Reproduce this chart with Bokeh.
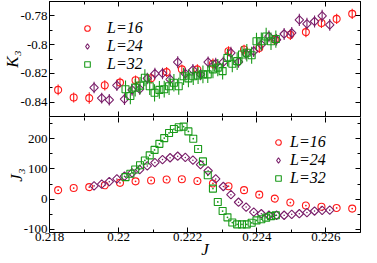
import math
from bokeh.plotting import figure
from bokeh.layouts import column
from bokeh.models import (Range1d, LinearAxis, FixedTicker, CustomJSTickFormatter,
                          Legend, LegendItem, ColumnDataSource)
from bokeh.embed import file_html
from bokeh.resources import INLINE

# ---------------- data ----------------
J16 = [0.21825, 0.21870, 0.21915, 0.21960, 0.22004, 0.22049, 0.22094, 0.22139, 0.22183, 0.22228,
       0.22273, 0.22318, 0.22363, 0.22407, 0.22452, 0.22497, 0.22542, 0.22587, 0.22631, 0.22676]
K16 = [-0.8315, -0.8368, -0.8372, -0.8283, -0.8264, -0.8248, -0.8234, -0.8191, -0.8172, -0.8172,
       -0.8133, -0.8046, -0.8034, -0.8023, -0.7966, -0.7931, -0.7913, -0.7850, -0.7821, -0.7786]
dK16 = [0.0038, 0.0035, 0.0040, 0.0036, 0.0035, 0.0034, 0.0036, 0.0035, 0.0034, 0.0035,
        0.0036, 0.0035, 0.0034, 0.0036, 0.0035, 0.0036, 0.0035, 0.0034, 0.0035, 0.0036]
J3_16 = [30, 37, 40, 46, 54, 59, 62, 65, 66, 60, 52, 43, 30, 15, 2, -11, -21, -25, -29, -31]

J24 = [0.21929, 0.21951, 0.21973, 0.21995, 0.22017, 0.22039, 0.22061, 0.22083, 0.22105, 0.22127,
       0.22149, 0.22171, 0.22193, 0.22215, 0.22237, 0.22259, 0.22281, 0.22303, 0.22325, 0.22347,
       0.22369, 0.22391, 0.22413, 0.22435, 0.22457, 0.22479, 0.22501, 0.22523, 0.22545, 0.22567,
       0.22589, 0.22611]
K24 = [-0.8299, -0.8372, -0.8384, -0.8283, -0.8379, -0.8315, -0.8310, -0.8235, -0.8202, -0.8200,
       -0.8241, -0.8122, -0.8202, -0.8175, -0.8207, -0.8122, -0.8133, -0.8122, -0.8057, -0.8120,
       -0.8064, -0.8046, -0.8000, -0.7943, -0.7966, -0.7926, -0.7919, -0.7828, -0.7855, -0.7839,
       -0.7800, -0.7862]
dK24 = [0.0040, 0.0038, 0.0040, 0.0039, 0.0041, 0.0040, 0.0039, 0.0040, 0.0041, 0.0040,
        0.0039, 0.0042, 0.0040, 0.0041, 0.0040, 0.0039, 0.0041, 0.0040, 0.0042, 0.0040,
        0.0041, 0.0040, 0.0042, 0.0041, 0.0040, 0.0042, 0.0041, 0.0043, 0.0042, 0.0041,
        0.0042, 0.0041]
J3_24 = [44, 50, 58, 67, 76, 87, 98, 110, 121, 131, 137, 142, 138, 129, 114, 94, 67, 42, 15, -10,
         -26, -43, -48, -53, -53, -53, -50, -48, -44, -39, -37, -36]

J32 = [0.22020, 0.22034, 0.22048, 0.22062, 0.22076, 0.22090, 0.22104, 0.22118, 0.22132, 0.22146,
       0.22160, 0.22174, 0.22188, 0.22202, 0.22216, 0.22230, 0.22244, 0.22258, 0.22273, 0.22287,
       0.22301, 0.22315, 0.22329, 0.22343, 0.22357, 0.22371, 0.22385, 0.22399, 0.22413, 0.22427,
       0.22441, 0.22455]
K32 = [-0.8310, -0.8357, -0.8299, -0.8285, -0.8230, -0.8290, -0.8335, -0.8315, -0.8310, -0.8290,
       -0.8265, -0.8290, -0.8220, -0.8235, -0.8220, -0.8215, -0.8207, -0.8207, -0.8172, -0.8160,
       -0.8184, -0.8092, -0.8133, -0.8115, -0.8069, -0.8057, -0.8074, -0.7977, -0.7977, -0.7943,
       -0.7977, -0.7961]
dK32 = [0.0060, 0.0058, 0.0062, 0.0060, 0.0059, 0.0061, 0.0060, 0.0062, 0.0058, 0.0060,
        0.0061, 0.0059, 0.0060, 0.0062, 0.0060, 0.0059, 0.0061, 0.0060, 0.0062, 0.0060,
        0.0059, 0.0061, 0.0060, 0.0062, 0.0060, 0.0061, 0.0059, 0.0060, 0.0062, 0.0060,
        0.0061, 0.0060]
J3_32 = [73, 84, 98, 112, 128, 145, 163, 183, 202, 219, 232, 238, 240, 224, 200, 166, 125, 79, 35, -9,
         -39, -60, -77, -83, -83, -83, -78, -70, -66, -61, -56, -53]

labels = ["L=16", "L=24", "L=32"]
x_ticks = [0.218, 0.22, 0.222, 0.224, 0.226]
x_minor = [0.219, 0.221, 0.223, 0.225, 0.227]
k_ticks = [-0.84, -0.82, -0.8, -0.78]
k_minor = [-0.85, -0.83, -0.81, -0.79, -0.77]
j3_ticks = [-100, 0, 100, 200]
j3_minor = [-50, 50, 150, 250]

# ---------------- style ----------------
RED = "#ff1a1a"
PURPLE = "#7a1f6a"
GREEN = "#1a9a1a"
SERIF = "Liberation Serif"
LEFT = 44
W = 361
DIAMOND = math.pi / 4

fmt = CustomJSTickFormatter(code="return String(parseFloat(tick.toFixed(4)));")
blank = CustomJSTickFormatter(code="return '';")


def make_axis(ticks, minor, show_labels, line=True, label=None, label_standoff=0, tick_standoff=2):
    ax = LinearAxis(ticker=FixedTicker(ticks=ticks, minor_ticks=minor))
    ax.major_tick_in = 5
    ax.major_tick_out = 0
    ax.minor_tick_in = 3
    ax.minor_tick_out = 0
    ax.axis_line_color = "black" if line else None
    ax.axis_line_width = 1
    ax.major_tick_line_color = "black"
    ax.minor_tick_line_color = "black"
    ax.major_label_text_font = SERIF
    ax.major_label_text_color = "black"
    if show_labels:
        ax.formatter = fmt
        ax.major_label_text_font_size = "13px"
        ax.major_label_standoff = tick_standoff
    else:
        ax.formatter = blank
        ax.major_label_text_font_size = "1px"
        ax.major_label_standoff = 0
    if label:
        ax.axis_label = label
        ax.axis_label_text_font = SERIF
        ax.axis_label_text_font_style = "italic"
        ax.axis_label_text_font_size = "17px"
        ax.axis_label_standoff = label_standoff
        ax.axis_label_text_color = "black"
    return ax


def style_legend(leg, margin, glyph_w, standoff, label_w=20):
    leg.label_text_font = SERIF
    leg.label_text_font_style = "italic"
    leg.label_text_font_size = "16px"
    leg.label_text_color = "black"
    leg.background_fill_alpha = 0
    leg.border_line_color = None
    leg.padding = 0
    leg.margin = margin
    leg.spacing = -7
    leg.glyph_height = 14
    leg.glyph_width = glyph_w
    leg.label_height = 14
    leg.label_width = label_w
    leg.label_standoff = standoff
    leg.inactive_fill_alpha = 0


x_range = Range1d(0.218, 0.227)

# ---------------- top panel ----------------
top = figure(width=W, height=117, x_range=x_range, y_range=Range1d(-0.85, -0.77),
             output_backend="svg", toolbar_location=None,
             x_axis_location=None, y_axis_location=None,
             min_border_left=LEFT, min_border_right=1, min_border_top=1, min_border_bottom=1)
top.outline_line_color = None
top.grid.visible = False
top.add_layout(make_axis(k_ticks, k_minor, True, label="K₃", label_standoff=-5), "left")
top.add_layout(make_axis(k_ticks, k_minor, False), "right")
top.add_layout(make_axis(x_ticks, x_minor, False), "above")
top.add_layout(make_axis(x_ticks, x_minor, False), "below")

series_top = [(J16, K16, dK16, RED, "circle", 7, 0, "circle", 7),
              (J24, K24, dK24, PURPLE, "square", 6, DIAMOND, "diamond", 10),
              (J32, K32, dK32, GREEN, "square", 7, 0, "square", 7)]
legend_renderers_top = []
for J, K, dK, color, marker, size, ang, lmarker, lsize in series_top:
    src = ColumnDataSource(dict(x=J, y=K,
                                lo=[k - d for k, d in zip(K, dK)],
                                hi=[k + d for k, d in zip(K, dK)]))
    top.segment(x0="x", y0="lo", x1="x", y1="hi", source=src, line_color=color, line_width=1.1)
    top.scatter("x", "y", source=src, marker=marker, size=size, angle=ang, fill_color=None,
                line_color=color, line_width=1.1)
    lr = top.scatter("x", "y", source=src, marker=lmarker, size=lsize, fill_color=None,
                     line_color=color, line_width=1.1, visible=False)
    legend_renderers_top.append(lr)

leg_top = Legend(items=[LegendItem(label=l, renderers=[r])
                        for l, r in zip(labels, legend_renderers_top)],
                 location="top_left")
style_legend(leg_top, margin=18, glyph_w=40, standoff=-8)
top.add_layout(leg_top)

# ---------------- bottom panel ----------------
bot = figure(width=W, height=144, x_range=x_range, y_range=Range1d(-110, 270),
             output_backend="svg", toolbar_location=None,
             x_axis_location=None, y_axis_location=None,
             min_border_left=LEFT, min_border_right=1, min_border_top=0, min_border_bottom=1)
bot.outline_line_color = None
bot.grid.visible = False
bot.add_layout(make_axis(j3_ticks, j3_minor, True, label="J₃", label_standoff=-5), "left")
bot.add_layout(make_axis(j3_ticks, j3_minor, False), "right")
bot.add_layout(make_axis(x_ticks, x_minor, False, line=False), "above")
bot.add_layout(make_axis(x_ticks, x_minor, True, label="J", label_standoff=-4, tick_standoff=0),
               "below")

series_bot = [(J16, J3_16, RED, "circle_dot", 7, 0, "circle", 7),
              (J24, J3_24, PURPLE, "square_dot", 6, DIAMOND, "diamond", 10),
              (J32, J3_32, GREEN, "square_dot", 7, 0, "square", 7)]
legend_renderers_bot = []
for J, V, color, marker, size, ang, lmarker, lsize in series_bot:
    src = ColumnDataSource(dict(x=J, y=V))
    bot.scatter("x", "y", source=src, marker=marker, size=size, angle=ang, fill_color=None,
                line_color=color, line_width=1.1)
    lr = bot.scatter("x", "y", source=src, marker=lmarker, size=lsize, fill_color=None,
                     line_color=color, line_width=1.1, visible=False)
    legend_renderers_bot.append(lr)

leg_bot = Legend(items=[LegendItem(label=l, renderers=[r])
                        for l, r in zip(labels, legend_renderers_bot)],
                 location="top_right")
style_legend(leg_bot, margin=16, glyph_w=14, standoff=5, label_w=54)
bot.add_layout(leg_bot)

layout = column(top, bot, spacing=0)
open("out.html", "w").write(file_html(layout, INLINE))
